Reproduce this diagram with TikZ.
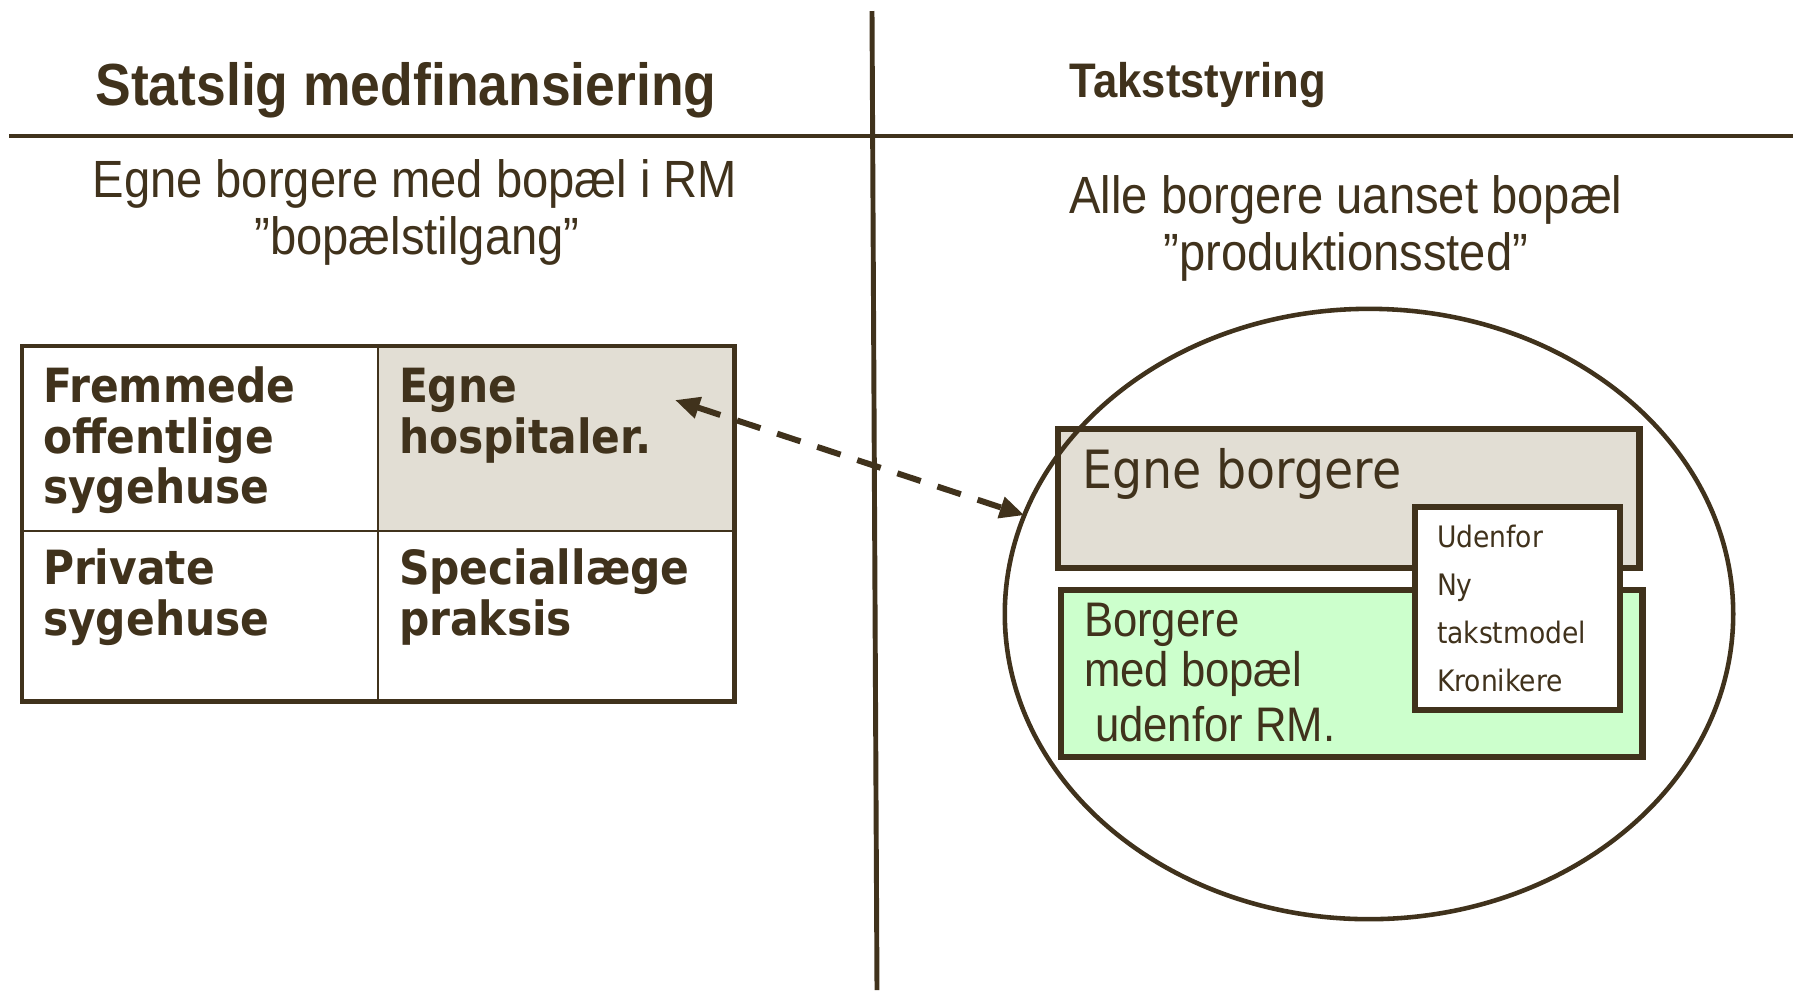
\documentclass[tikz,border=0pt]{standalone}
\usepackage{fontspec}
\usetikzlibrary{shapes.geometric,arrows.meta}
\newfontfamily\arialf[FakeStretch=0.9]{Liberation Sans}
\newfontfamily\verdf[FakeStretch=0.9]{DejaVu Sans}
\definecolor{ink}{RGB}{64,50,28}
\definecolor{beige}{RGB}{226,222,212}
\definecolor{mint}{RGB}{204,255,204}
\tikzset{
  every node/.style={inner sep=0pt, outer sep=0pt, text=ink},
  title/.style={anchor=base, font=\arialf\bfseries\fontsize{16.9}{19}\selectfont},
  subt/.style={anchor=base, font=\arialf\fontsize{14.9}{17}\selectfont},
  cellt/.style={anchor=base west, font=\verdf\bfseries\fontsize{13.4}{15}\selectfont},
  cell/.style={draw=ink, line width=0.7pt, rectangle, anchor=north west},
  bigt/.style={anchor=base west, font=\verdf\fontsize{15}{17}\selectfont},
  greent/.style={anchor=base west, font=\arialf\fontsize{13.8}{16}\selectfont},
  smallt/.style={anchor=base west, font=\verdf\fontsize{8.4}{10}\selectfont},
  box/.style={draw=ink, line width=1.8pt, rectangle, anchor=north west},
  rule/.style={draw=ink, line width=1.4pt},
  link/.style={draw=ink, line width=1.7pt, dash pattern=on 7pt off 5pt,
    {Triangle[length=7pt,width=6pt]}-{Triangle[length=7pt,width=6pt]}}
}
\begin{document}
\begin{tikzpicture}[x=0.01cm, y=-0.01cm]
\useasboundingbox (0,0) rectangle (1793,990);

% dividing lines
\coordinate (hl) at (9,136);
\coordinate (hr) at (1793,136);
\coordinate (vt) at (872,11);
\coordinate (vb) at (877,990);
\draw[rule] (hl) -- (hr);
\draw[rule] (vt) -- (vb);

% headings
\node[title] (t1) at (406,105) {Statslig medfinansiering};
\node[title, font=\arialf\bfseries\fontsize{13.8}{16}\selectfont] (t2) at (1198,97) {Takststyring};
\node[subt] (s1a) at (415,197) {Egne borgere med bopæl i RM};
\node[subt] (s1b) at (417,254) {”bopælstilgang”};
\node[subt] (s2a) at (1346,213) {Alle borgere uanset bopæl};
\node[subt] (s2b) at (1346,270) {”produktionssted”};

% table
\node[cell, minimum width=3.56cm, minimum height=1.85cm] (c11) at (22,346) {};
\node[cell, fill=beige, minimum width=3.56cm, minimum height=1.85cm] (c12) at (378,346) {};
\node[cell, minimum width=3.56cm, minimum height=1.70cm] (c21) at (22,531) {};
\node[cell, minimum width=3.56cm, minimum height=1.70cm] (c22) at (378,531) {};
\draw[rule] (c11.north west) rectangle (c22.south east);

\node[cellt] (f1) at (43,402) {Fremmede};
\node[cellt] (f2) at (43,453) {offentlige};
\node[cellt] (f3) at (43,503) {sygehuse};
\node[cellt] (e1) at (399,402) {Egne};
\node[cellt] (e2) at (399,453) {hospitaler.};
\node[cellt] (p1) at (43,584) {Private};
\node[cellt] (p2) at (43,635) {sygehuse};
\node[cellt] (q1) at (399,584) {Speciallæge};
\node[cellt] (q2) at (399,635) {praksis};

% right side
\node[box, fill=beige, minimum width=5.81cm, minimum height=1.39cm] (eb) at (1058,429) {};
\node[box, fill=mint, minimum width=5.81cm, minimum height=1.67cm] (gb) at (1061,590) {};
\node[ellipse, draw=ink, line width=1.3pt, minimum width=7.28cm, minimum height=6.10cm] (ell) at (1369,614) {};
\node[box, fill=white, minimum width=2.05cm, minimum height=2.03cm] (wb) at (1415,507) {};

\node[bigt] (ebt) at (1082,488) {Egne borgere};
\node[greent] (g1) at (1084,636) {Borgere};
\node[greent] (g2) at (1084,686) {med bopæl};
\node[greent] (g3) at (1095,741) {udenfor RM.};

\node[smallt] (w1) at (1437,547) {Udenfor};
\node[smallt] (w2) at (1437,595) {Ny};
\node[smallt] (w3) at (1437,643) {takstmodel};
\node[smallt] (w4) at (1437,691) {Kronikere};

% dashed double arrow
\coordinate (hosp) at (675,400);
\draw[link] (hosp) -- (ell.164.5);
\end{tikzpicture}
\end{document}
